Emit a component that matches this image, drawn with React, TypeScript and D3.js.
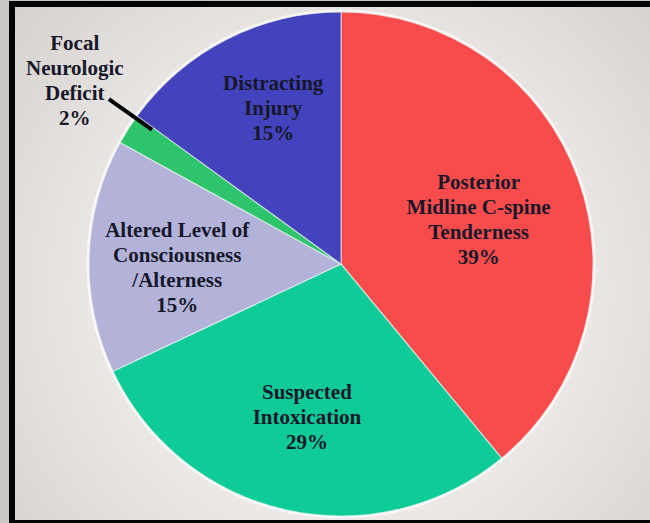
import React from "react";
import * as d3 from "d3";

// Indications share (%), clockwise from 12 o'clock
const categories = [
  "Posterior Midline C-spine Tenderness",
  "Suspected Intoxication",
  "Altered Level of Consciousness /Alterness",
  "Focal Neurologic Deficit",
  "Distracting Injury",
];
const values = [39, 29, 15, 2, 15];
const labelLines = [
  ["Posterior", "Midline C-spine", "Tenderness"],
  ["Suspected", "Intoxication"],
  ["Altered Level of", "Consciousness", "/Alterness"],
  ["Focal", "Neurologic", "Deficit"],
  ["Distracting", "Injury"],
];
const colors = ["#f84c4c", "#0fcb98", "#b3b3da", "#2ec46c", "#4343bd"];

// label placement: fraction of radius, angle nudge (deg); outside = callout label
const labelPlacement = [
  { r: 0.575, nudge: 1.6, outside: false },
  { r: 0.62, nudge: 0, outside: false },
  { r: 0.65, nudge: -3, outside: false },
  { r: 1.285, nudge: 2.3, outside: true },
  { r: 0.675, nudge: 3.5, outside: false },
];

const W = 650;
const H = 523;
const cx = 341;
const cy = 264;
const R = 252;
const lineH = 25;
const fontSize = 21;

export default function App() {
  const pie = d3
    .pie<number>()
    .sort(null)
    .value((d) => d)(values);
  const arc = d3.arc<d3.PieArcDatum<number>>().innerRadius(0).outerRadius(R);

  const polar = (angle: number, r: number): [number, number] => [
    Math.sin(angle) * r,
    -Math.cos(angle) * r,
  ];
  const deg = Math.PI / 180;

  return (
    <svg
      width={W}
      height={H}
      style={{ position: "fixed", left: 0, top: 0, display: "block" }}
    >
      <defs>
        <radialGradient id="bg" cx="340" cy="290" r="430" gradientUnits="userSpaceOnUse">
          <stop offset="0" stopColor="#f8f7f6" />
          <stop offset="0.55" stopColor="#ebe8e6" />
          <stop offset="1" stopColor="#d6d2ce" />
        </radialGradient>
      </defs>
      <rect x={0} y={0} width={W} height={H} fill="#cbc7c3" />
      <rect x={9} y={1} width={W + 40} height={H + 40} fill="#050505" />
      <rect x={15} y={7} width={W + 40} height={513} fill="url(#bg)" />

      <g transform={`translate(${cx},${cy})`}>
        <circle r={R + 1.5} fill="none" stroke="#ffffff" strokeOpacity={0.7} strokeWidth={2} />
        {pie.map((d, i) => (
          <path
            key={categories[i]}
            d={arc(d) || ""}
            fill={colors[i]}
            stroke="#ffffff"
            strokeOpacity={0.55}
            strokeWidth={1.2}
          />
        ))}
        {pie.map((d, i) => {
          const p = labelPlacement[i];
          const baseMid = (d.startAngle + d.endAngle) / 2;
          const mid = baseMid + p.nudge * deg;
          const [lx, ly] = polar(mid, p.r * R);
          const lines = [...labelLines[i], `${values[i]}%`];
          const top = ly - ((lines.length - 1) * lineH) / 2 + fontSize * 0.35;
          let leader = null;
          if (p.outside) {
            const la = baseMid + 3 * deg;
            const [x1, y1] = polar(la, R * 1.13);
            const [x2, y2] = polar(la, R * 0.92);
            leader = (
              <line x1={x1} y1={y1} x2={x2} y2={y2} stroke="#000" strokeWidth={4} />
            );
          }
          return (
            <g key={`lab-${i}`}>
              {leader}
              <text
                textAnchor="middle"
                fontFamily="'Liberation Serif', 'Times New Roman', serif"
                fontWeight="bold"
                fontSize={fontSize}
                fill="#17172a"
              >
                {lines.map((t, j) => (
                  <tspan key={j} x={lx} y={top + j * lineH}>
                    {t}
                  </tspan>
                ))}
              </text>
            </g>
          );
        })}
      </g>
    </svg>
  );
}
